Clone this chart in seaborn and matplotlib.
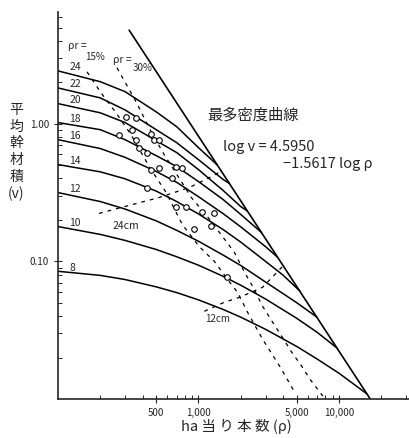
import matplotlib
matplotlib.use("Agg")
import matplotlib.pyplot as plt
from matplotlib.ticker import FixedLocator, FixedFormatter, LogLocator, NullFormatter
import pandas as pd
import seaborn as sns

# diameter-class curves (label, stand density rho, mean stem volume v)
curve_labels = ["24", "22", "20", "18", "16", "14", "12", "10", "8"]
curve_rho = [
    [100, 200, 300, 500, 700, 1000, 1364],
    [100, 200, 300, 500, 700, 1000, 1500, 1660],
    [100, 200, 300, 500, 700, 1000, 1500, 2000, 2230],
    [100, 200, 300, 500, 700, 1000, 1500, 2000, 2810],
    [100, 200, 300, 500, 700, 1000, 1500, 2000, 3000, 3660],
    [100, 200, 300, 500, 700, 1000, 1500, 2000, 3000, 4000, 5250],
    [100, 200, 300, 500, 700, 1000, 1500, 2000, 3000, 5000, 6950],
    [100, 200, 300, 500, 700, 1000, 1500, 2000, 3000, 5000, 7000, 9660],
    [100, 200, 300, 500, 700, 1000, 1500, 2000, 3000, 5000, 7000, 10000, 15800],
]
curve_v = [
    [2.42, 2.02, 1.71, 1.22, 0.951, 0.670, 0.500],
    [1.82, 1.54, 1.26, 0.905, 0.728, 0.548, 0.393, 0.368],
    [1.40, 1.20, 1.02, 0.753, 0.617, 0.464, 0.327, 0.250, 0.232],
    [1.02, 0.905, 0.766, 0.586, 0.488, 0.380, 0.281, 0.219, 0.162],
    [0.766, 0.660, 0.570, 0.450, 0.375, 0.295, 0.222, 0.178, 0.128, 0.107],
    [0.505, 0.447, 0.398, 0.324, 0.272, 0.221, 0.170, 0.138, 0.100, 0.0794, 0.0611],
    [0.316, 0.272, 0.240, 0.197, 0.168, 0.140, 0.111, 0.0933, 0.0708, 0.0501, 0.0394],
    [0.179, 0.157, 0.142, 0.122, 0.108, 0.0938, 0.0778, 0.0671, 0.0533, 0.0386, 0.0305, 0.0235],
    [0.0847, 0.0791, 0.0738, 0.0653, 0.0593, 0.0525, 0.0447, 0.0393, 0.0321, 0.0241, 0.0195, 0.0154, 0.0109],
]

# maximum density line: log v = 4.5950 - 1.5617 log rho
maxline_rho = [321, 16700]
maxline_v = [4.78, 0.0100]

# relative density lines
rr15_rho = [161, 202, 259, 331, 446, 589, 767, 1014, 1297, 1607, 1897, 2234, 2858, 3784, 4842]
rr15_v = [2.38, 1.68, 1.20, 0.832, 0.488, 0.316, 0.185, 0.128, 0.100, 0.0741, 0.0596, 0.0427, 0.0272, 0.0173, 0.0112]
rr30_rho = [263, 360, 460, 570, 755, 889, 1156, 1479, 1803, 2128, 2427, 2858, 3373, 3908, 4603, 5433, 6194, 7674]
rr30_v = [2.55, 1.44, 0.875, 0.596, 0.380, 0.291, 0.212, 0.152, 0.116, 0.0832, 0.0659, 0.0472, 0.0361, 0.0286, 0.0219, 0.0173, 0.0140, 0.0105]

# equal mean diameter lines
d24_rho = [196, 321, 525, 861, 1236, 1455]
d24_v = [0.223, 0.255, 0.291, 0.344, 0.413, 0.452]
d12_rho = [1101, 1531, 1959, 2858, 3972]
d12_v = [0.0434, 0.0505, 0.0548, 0.0648, 0.092]

# observed stands
obs_rho = [272, 305, 360, 337, 360, 378, 432, 460, 484, 525, 460, 525, 650, 695, 767,
           432, 695, 818, 1067, 933, 1236, 1297, 1607]
obs_v = [0.832, 1.12, 1.10, 0.905, 0.766, 0.670, 0.617, 0.846, 0.766, 0.766, 0.464, 0.480,
         0.406, 0.488, 0.480, 0.344, 0.250, 0.250, 0.230, 0.171, 0.182, 0.226, 0.0766]

xtick_vals = [500, 1000, 5000, 10000]
xtick_text = ["500", "1,000", "5,000", "10,000"]
ytick_vals = [0.10, 1.00]
ytick_text = ["0.10", "1.00"]

sns.set_style("ticks")
plt.rcParams["font.family"] = ["Noto Sans CJK JP", "DejaVu Sans"]

fig = plt.figure(figsize=(4.09, 4.38), dpi=100)
ax = fig.add_axes([0.1418, 0.089, 0.8582, 0.8836])

for lab, r, v in zip(curve_labels, curve_rho, curve_v):
    sns.lineplot(x=r, y=v, ax=ax, color="black", lw=1.1, sort=False, estimator=None)
    ax.text(r[0] * 1.2, v[0] * 1.01, lab, fontsize=7.5, ha="left", va="baseline")

sns.lineplot(x=maxline_rho, y=maxline_v, ax=ax, color="black", lw=1.2, sort=False, estimator=None)

for r, v in [(rr15_rho, rr15_v), (rr30_rho, rr30_v), (d24_rho, d24_v), (d12_rho, d12_v)]:
    sns.lineplot(x=r, y=v, ax=ax, color="black", lw=0.9, sort=False, estimator=None,
                 dashes=False, linestyle=(0, (3, 4)))

obs = pd.DataFrame({"rho": obs_rho, "v": obs_v})
sns.scatterplot(data=obs, x="rho", y="v", ax=ax, s=16, facecolor="white",
                edgecolor="black", linewidth=0.8, zorder=5)

ax.set_xscale("log")
ax.set_yscale("log")
ax.set_xlim(100, 31500)
ax.set_ylim(0.01, 6.48)

ax.xaxis.set_major_locator(FixedLocator(xtick_vals))
ax.xaxis.set_major_formatter(FixedFormatter(xtick_text))
ax.yaxis.set_major_locator(FixedLocator(ytick_vals))
ax.yaxis.set_major_formatter(FixedFormatter(ytick_text))
ax.xaxis.set_minor_locator(LogLocator(base=10, subs=range(2, 10)))
ax.yaxis.set_minor_locator(LogLocator(base=10, subs=range(2, 10)))
ax.xaxis.set_minor_formatter(NullFormatter())
ax.yaxis.set_minor_formatter(NullFormatter())
ax.tick_params(which="major", direction="inout", length=6, width=0.8, labelsize=7)
ax.tick_params(which="minor", direction="in", length=3, width=0.7)

sns.despine(ax=ax)
ax.spines["left"].set_linewidth(1.2)
ax.spines["bottom"].set_linewidth(1.2)
ax.set_xlabel("")
ax.set_ylabel("")

# annotations
ax.text(0.028, 0.912, "ρr =", transform=ax.transAxes, fontsize=7.5, va="center")
ax.text(0.077, 0.884, "15%", transform=ax.transAxes, fontsize=7, va="center")
ax.text(0.157, 0.876, "ρr =", transform=ax.transAxes, fontsize=7.5, va="center")
ax.text(0.214, 0.855, "30%", transform=ax.transAxes, fontsize=7, va="center")
ax.text(0.425, 0.735, "最多密度曲線", transform=ax.transAxes, fontsize=11, va="center")
ax.text(0.47, 0.65, "log v = 4.5950", transform=ax.transAxes, fontsize=10.5, style="italic",
        va="center")
ax.text(0.641, 0.608, "−1.5617 log ρ", transform=ax.transAxes, fontsize=10.5, style="italic",
        va="center")
ax.text(0.155, 0.44, "24cm", transform=ax.transAxes, fontsize=7.5)
ax.text(0.42, 0.2, "12cm", transform=ax.transAxes, fontsize=7)

fig.text(0.04, 0.765, "平\n均\n幹\n材\n積\n(v)", fontsize=10, ha="center", va="top",
         linespacing=1.25)
fig.text(0.577, 0.026, "ha 当 り 本 数 (ρ)", fontsize=10.5, ha="center", va="center")

fig.savefig("out.png", dpi=100)
